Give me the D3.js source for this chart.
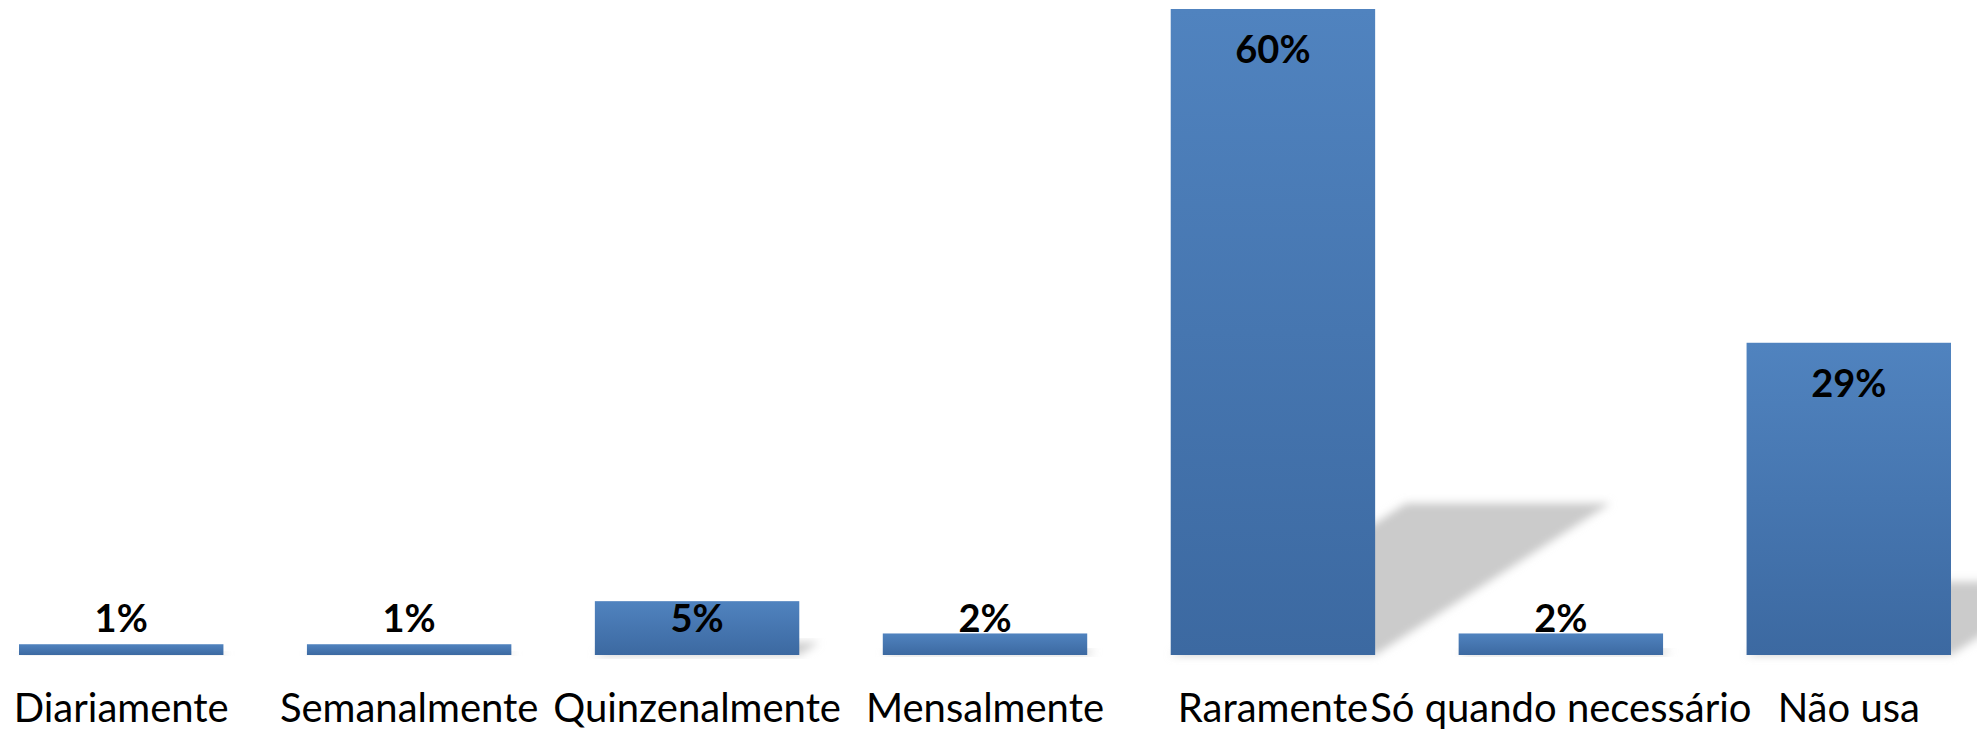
<!DOCTYPE html>
<html>
<head>
<meta charset="utf-8">
<script src="https://cdn.jsdelivr.net/npm/d3@7"></script>
<style>
  body { margin: 0; background: #fff; }
  text { font-family: Lato, "Liberation Sans", sans-serif; }
</style>
</head>
<body>
<div id="chart"></div>
<script>
// Data
const categories = ['Diariamente', 'Semanalmente', 'Quinzenalmente', 'Mensalmente', 'Raramente', 'Só quando necessário', 'Não usa'];
const values = [1, 1, 5, 2, 60, 2, 29];
const valueLabels = ['1%', '1%', '5%', '2%', '60%', '2%', '29%'];

const width = 1977, height = 730;
const baseY = 655;

const svg = d3.select('#chart')
    .append('svg')
    .attr('width', width)
    .attr('height', height);

const defs = svg.append('defs');

// Bar gradient, light on top, darker at the bottom
const grad = defs.append('linearGradient')
    .attr('id', 'barGrad')
    .attr('x1', 0).attr('y1', 0)
    .attr('x2', 0).attr('y2', 1);
grad.append('stop').attr('offset', '0%').attr('stop-color', '#5083bf');
grad.append('stop').attr('offset', '100%').attr('stop-color', '#3c69a1');

// Soft cast shadow
defs.append('filter')
    .attr('id', 'blur')
    .attr('x', '-20%').attr('y', '-30%')
    .attr('width', '140%').attr('height', '160%')
    .append('feGaussianBlur')
    .attr('stdDeviation', 4);

// Scales
const x = d3.scaleBand()
    .domain(categories)
    .range([19, 1951])
    .paddingInner(0.29)
    .paddingOuter(0);

const y = d3.scaleLinear()
    .domain([0, 60])
    .range([baseY, 9]);

const data = categories.map((c, i) => ({ cat: c, value: values[i], label: valueLabels[i] }));

// Shadows: bar squashed and skewed up to the right
const shadowRatio = 0.235, shear = 1.55;
svg.append('g')
    .attr('class', 'shadows')
    .selectAll('path')
    .data(data)
    .enter()
    .append('path')
    .attr('fill', '#cbcbcb')
    .attr('filter', 'url(#blur)')
    .attr('d', d => {
        const x0 = x(d.cat), x1 = x0 + x.bandwidth();
        const h = (baseY - y(d.value)) * shadowRatio;
        const dx = h * shear;
        return `M${x0},${baseY}L${x1},${baseY}L${x1 + dx},${baseY - h}L${x0 + dx},${baseY - h}Z`;
    });

// Bars
svg.append('g')
    .attr('class', 'bars')
    .selectAll('rect')
    .data(data)
    .enter()
    .append('rect')
    .attr('x', d => x(d.cat))
    .attr('y', d => y(d.value))
    .attr('width', x.bandwidth())
    .attr('height', d => baseY - y(d.value))
    .attr('fill', 'url(#barGrad)');

// Value labels: inside near the top, or just above short bars
svg.append('g')
    .attr('class', 'values')
    .selectAll('text')
    .data(data)
    .enter()
    .append('text')
    .attr('x', d => x(d.cat) + x.bandwidth() / 2)
    .attr('y', d => Math.min(y(d.value) + 54, baseY - 23))
    .attr('text-anchor', 'middle')
    .style('font-size', '38px')
    .style('font-weight', 'bold')
    .attr('fill', '#000')
    .text(d => d.label);

// Category axis
const axis = svg.append('g')
    .attr('transform', `translate(0,${baseY})`)
    .call(d3.axisBottom(x).tickSize(0));

axis.select('.domain').remove();
axis.selectAll('text')
    .attr('y', 67)
    .attr('dy', 0)
    .attr('fill', '#000')
    .style('font-size', '40px')
    .style('font-family', 'Lato, "Liberation Sans", sans-serif');
</script>
</body>
</html>
